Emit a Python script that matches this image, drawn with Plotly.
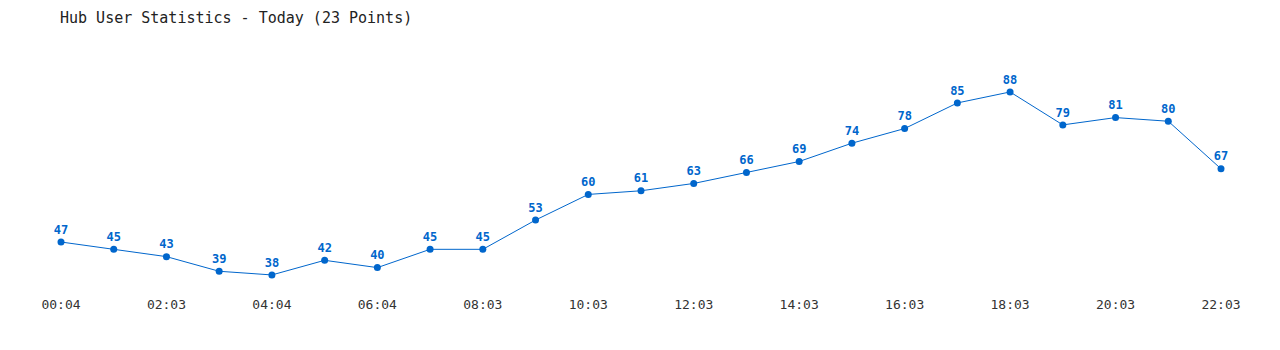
import plotly.graph_objects as go

values = [47, 45, 43, 39, 38, 42, 40, 45, 45, 53, 60, 61, 63, 66, 69, 74, 78, 85, 88, 79, 81, 80, 67]
tick_labels = ["00:04", "02:03", "04:04", "06:04", "08:03", "10:03", "12:03",
               "14:03", "16:03", "18:03", "20:03", "22:03"]
title = "Hub User Statistics - Today (23 Points)"

x = list(range(len(values)))
tick_vals = x[::2]

fig = go.Figure(go.Scatter(
    x=x, y=values, mode="lines+markers+text",
    text=[str(v) for v in values], textposition="top center",
    textfont=dict(family="DejaVu Sans Mono", size=12, color="#0066cc", weight="bold"),
    line=dict(color="#0066cc", width=1),
    marker=dict(color="#0066cc", size=7),
    cliponaxis=False,
    hoverinfo="skip",
))

fig.update_layout(
    width=1280, height=350,
    margin=dict(l=61, r=59, t=40, b=65),
    paper_bgcolor="white", plot_bgcolor="white",
    showlegend=False,
    title=dict(text=title, x=60 / 1280, xanchor="left", y=1 - 18 / 350, yanchor="middle",
               font=dict(family="DejaVu Sans Mono", size=15, color="#222222")),
    xaxis=dict(range=[0, 22], tickvals=tick_vals, ticktext=tick_labels,
               showgrid=False, zeroline=False, showline=False, ticks="",
               ticklabelstandoff=10,
               tickfont=dict(family="DejaVu Sans Mono", size=13, color="#333333")),
    yaxis=dict(range=[35.25, 102.2], visible=False),
)

fig.write_html("out.html")
